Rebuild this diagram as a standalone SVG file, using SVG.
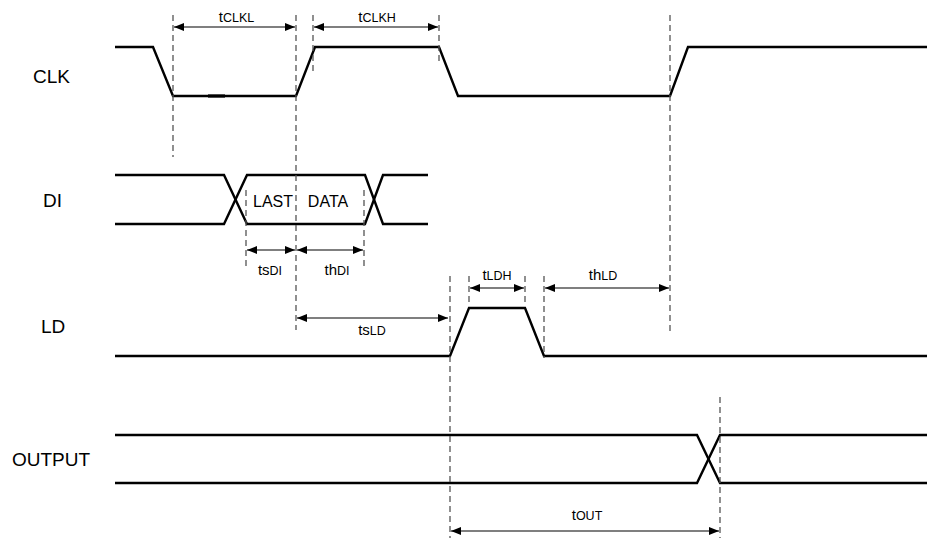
<svg xmlns="http://www.w3.org/2000/svg" width="931" height="541" viewBox="0 0 931 541">
<defs>
<marker id="ah" viewBox="0 0 10 8" refX="10" refY="4" markerWidth="10" markerHeight="8" markerUnits="userSpaceOnUse" orient="auto-start-reverse">
<path d="M0,0 L10,4 L0,8 Z" fill="#000"/>
</marker>
<style>
.wave{fill:none;stroke:#000;stroke-width:2.4;stroke-linejoin:miter}
.dash{fill:none;stroke:#555;stroke-width:1.3;stroke-dasharray:6 4}
.dim{fill:none;stroke:#000;stroke-width:1.2;marker-start:url(#ah);marker-end:url(#ah)}
.sig{font-family:"Liberation Sans",Arial,sans-serif;font-size:19px;fill:#000}
.lbl{font-family:"Liberation Sans",Arial,sans-serif;font-size:15px;fill:#000;text-anchor:middle}
.sub{font-size:12.5px}
.in{font-family:"Liberation Sans",Arial,sans-serif;font-size:16px;fill:#000;text-anchor:middle}
</style>
</defs>
<rect width="931" height="541" fill="#fff"/>

<g id="labels">
<text class="sig" x="33" y="83">CLK</text>
<text class="sig" x="43" y="207">DI</text>
<text class="sig" x="41" y="333">LD</text>
<text class="sig" x="12" y="466">OUTPUT</text>
</g>

<g id="CLK">
<polyline class="wave" points="115,47 153,47 173,96 296,96 315,47 439,47 458,96 670,96 688,47 927,47"/>
<line x1="208" y1="96" x2="225" y2="96" stroke="#000" stroke-width="3.2"/>
</g>

<g id="DI">
<polyline class="wave" points="115,175 224,175 247,224 365,224 383,175 428,175"/>
<polyline class="wave" points="115,224 224,224 247,175 365,175 383,224 428,224"/>
<text class="in" x="273" y="207">LAST</text>
<text class="in" x="328" y="207">DATA</text>
</g>

<g id="LD">
<polyline class="wave" points="115,356 450,356 469,308 525,308 544,356 927,356"/>
</g>

<g id="OUTPUT">
<polyline class="wave" points="115,435 697,435 720,483 927,483"/>
<polyline class="wave" points="115,483 697,483 720,435 927,435"/>
</g>

<g id="connectors">
<line class="dash" x1="173" y1="15" x2="173" y2="157"/>
<line class="dash" x1="296" y1="15" x2="296" y2="330"/>
<line class="dash" x1="313" y1="15" x2="313" y2="73"/>
<line class="dash" x1="439" y1="15" x2="439" y2="63"/>
<line class="dash" x1="670" y1="15" x2="670" y2="333"/>
<line class="dash" x1="246" y1="190" x2="246" y2="268"/>
<line class="dash" x1="364" y1="190" x2="364" y2="268"/>
<line class="dash" x1="450" y1="276" x2="450" y2="538"/>
<line class="dash" x1="469" y1="276" x2="469" y2="303"/>
<line class="dash" x1="525" y1="276" x2="525" y2="303"/>
<line class="dash" x1="544" y1="276" x2="544" y2="358"/>
<line class="dash" x1="720" y1="397" x2="720" y2="538"/>

<line class="dim" x1="174" y1="27" x2="295" y2="27"/>
<line class="dim" x1="314" y1="27" x2="438" y2="27"/>
<line class="dim" x1="247" y1="250" x2="295" y2="250"/>
<line class="dim" x1="297" y1="250" x2="363" y2="250"/>
<line class="dim" x1="470" y1="288" x2="524" y2="288"/>
<line class="dim" x1="545" y1="288" x2="669" y2="288"/>
<line class="dim" x1="297" y1="318" x2="448" y2="318"/>
<line class="dim" x1="451" y1="531" x2="719" y2="531"/>

<text class="lbl" x="236.5" y="22">t<tspan class="sub">CLKL</tspan></text>
<text class="lbl" x="377" y="22">t<tspan class="sub">CLKH</tspan></text>
<text class="lbl" x="270" y="275">ts<tspan class="sub">DI</tspan></text>
<text class="lbl" x="337" y="275">th<tspan class="sub">DI</tspan></text>
<text class="lbl" x="497" y="280">t<tspan class="sub">LDH</tspan></text>
<text class="lbl" x="603" y="280">th<tspan class="sub">LD</tspan></text>
<text class="lbl" x="372" y="335">ts<tspan class="sub">LD</tspan></text>
<text class="lbl" x="587" y="520">t<tspan class="sub">OUT</tspan></text>
</g>
</svg>
